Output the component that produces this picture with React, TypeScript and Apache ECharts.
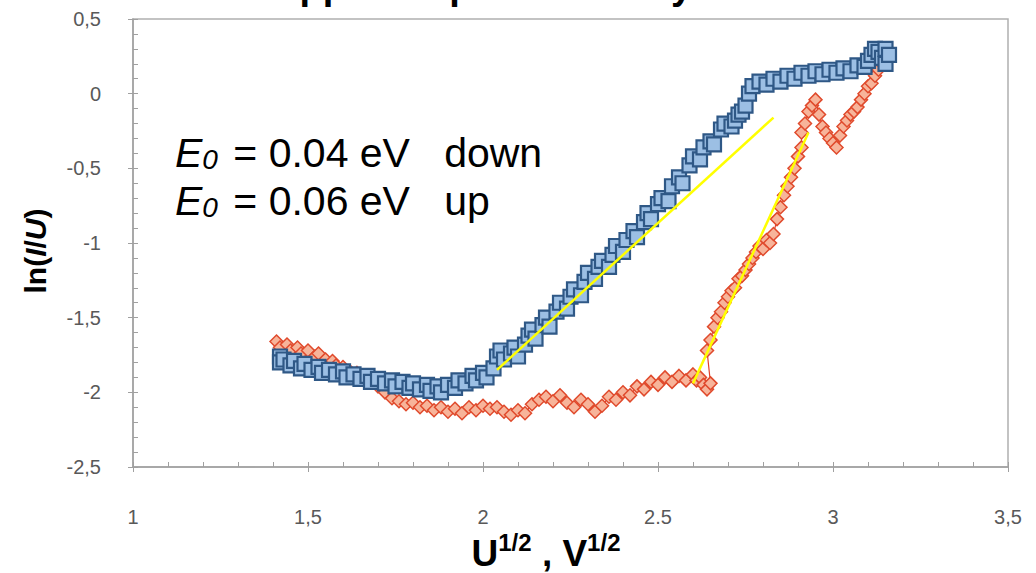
import React, { useEffect, useRef } from "react";
import * as echarts from "echarts";

// ---- data ----
const blueX = [1.42,1.42,1.43,1.45,1.46,1.48,1.49,1.51,1.53,1.54,1.56,1.58,1.60,1.61,1.63,1.65,1.67,1.68,1.70,1.72,1.74,1.75,1.77,1.79,1.80,1.82,1.84,1.85,1.87,1.88,1.90,1.92,1.93,1.95,1.97,1.98,2.00,2.01,2.03,2.04,2.05,2.06,2.08,2.09,2.10,2.12,2.13,2.14,2.15,2.17,2.18,2.19,2.21,2.22,2.24,2.25,2.26,2.28,2.29,2.30,2.32,2.33,2.34,2.36,2.37,2.38,2.40,2.41,2.43,2.44,2.46,2.47,2.48,2.50,2.51,2.53,2.54,2.56,2.57,2.59,2.60,2.62,2.63,2.65,2.66,2.68,2.69,2.71,2.72,2.73,2.74,2.75,2.76,2.77,2.79,2.81,2.83,2.85,2.87,2.89,2.91,2.93,2.95,2.97,2.99,3.01,3.03,3.05,3.07,3.09,3.10,3.11,3.12,3.13,3.14,3.15,3.15,3.16];
const blueY = [-1.76,-1.80,-1.78,-1.82,-1.79,-1.84,-1.81,-1.85,-1.83,-1.87,-1.85,-1.88,-1.86,-1.90,-1.88,-1.91,-1.89,-1.93,-1.91,-1.94,-1.92,-1.96,-1.93,-1.97,-1.94,-1.98,-1.95,-1.99,-1.96,-2.00,-1.95,-1.97,-1.92,-1.94,-1.89,-1.92,-1.87,-1.90,-1.84,-1.76,-1.72,-1.78,-1.74,-1.70,-1.76,-1.68,-1.62,-1.58,-1.64,-1.55,-1.50,-1.56,-1.46,-1.40,-1.44,-1.36,-1.31,-1.35,-1.26,-1.20,-1.24,-1.16,-1.12,-1.16,-1.08,-1.02,-1.06,-0.98,-0.92,-0.96,-0.86,-0.80,-0.84,-0.74,-0.70,-0.72,-0.62,-0.56,-0.60,-0.48,-0.42,-0.44,-0.36,-0.32,-0.34,-0.24,-0.20,-0.22,-0.18,-0.14,-0.12,-0.08,0.00,0.05,0.08,0.06,0.10,0.08,0.12,0.10,0.14,0.12,0.15,0.13,0.16,0.14,0.17,0.15,0.19,0.18,0.22,0.26,0.30,0.28,0.24,0.20,0.30,0.26];

const redX = [1.41,1.42,1.44,1.45,1.47,1.48,1.50,1.52,1.53,1.55,1.57,1.58,1.60,1.62,1.64,1.66,1.68,1.70,1.72,1.74,1.76,1.78,1.80,1.82,1.84,1.86,1.88,1.90,1.92,1.94,1.96,1.98,2.00,2.02,2.04,2.06,2.08,2.10,2.12,2.14,2.16,2.18,2.20,2.22,2.24,2.26,2.28,2.30,2.32,2.34,2.36,2.38,2.40,2.42,2.44,2.46,2.48,2.50,2.52,2.54,2.56,2.58,2.60,2.61,2.62,2.63,2.64,2.65,2.64,2.65,2.66,2.67,2.68,2.69,2.70,2.71,2.72,2.73,2.74,2.75,2.76,2.77,2.78,2.79,2.80,2.81,2.82,2.83,2.84,2.85,2.86,2.87,2.88,2.89,2.90,2.91,2.91,2.92,2.93,2.94,2.95,2.96,2.97,2.98,2.99,3.00,3.01,3.02,3.03,3.04,3.05,3.06,3.07,3.08,3.09,3.10,3.11,3.12,3.13,3.14];
const redY = [-1.66,-1.70,-1.68,-1.72,-1.70,-1.74,-1.72,-1.76,-1.74,-1.78,-1.79,-1.82,-1.83,-1.86,-1.87,-1.90,-1.93,-1.96,-2.00,-2.04,-2.06,-2.08,-2.07,-2.10,-2.09,-2.12,-2.10,-2.13,-2.11,-2.14,-2.10,-2.12,-2.09,-2.11,-2.10,-2.13,-2.15,-2.12,-2.14,-2.08,-2.05,-2.03,-2.06,-2.02,-2.07,-2.10,-2.05,-2.08,-2.13,-2.09,-2.03,-2.05,-2.00,-2.02,-1.96,-1.98,-1.93,-1.95,-1.90,-1.93,-1.89,-1.92,-1.88,-1.92,-1.90,-1.95,-1.98,-1.94,-1.72,-1.65,-1.56,-1.50,-1.46,-1.40,-1.36,-1.32,-1.30,-1.24,-1.22,-1.18,-1.14,-1.10,-1.06,-1.02,-1.04,-0.98,-1.00,-0.94,-0.84,-0.76,-0.68,-0.62,-0.56,-0.50,-0.42,-0.36,-0.26,-0.20,-0.12,-0.08,-0.04,-0.14,-0.22,-0.26,-0.30,-0.33,-0.36,-0.28,-0.22,-0.18,-0.14,-0.12,-0.09,-0.04,0.00,0.05,0.07,0.12,0.16,0.20];

const fitDownX = [2.04, 2.83];
const fitDownY = [-1.85, -0.16];
const fitUpX = [2.6, 2.93];
const fitUpY = [-1.94, -0.26];

const xTickLabels: Record<string, string> = { "1": "1", "1.5": "1,5", "2": "2", "2.5": "2.5", "3": "3", "3.5": "3,5" };
const yTickLabels: Record<string, string> = { "0.5": "0,5", "0": "0", "-0.5": "-0,5", "-1": "-1", "-1.5": "-1,5", "-2": "-2", "-2.5": "-2,5" };

const notes = ["0.04 eV   down", "0.06 eV   up"];

const zip = (xs: number[], ys: number[]) => xs.map((x, i) => [x, ys[i]]);

const FONT = "Liberation Sans";
const GRAY = "#a0a0a0";

export default function App() {
  const ref = useRef<HTMLDivElement>(null);
  useEffect(() => {
    if (!ref.current) return;
    const chart = echarts.init(ref.current, undefined, { renderer: "svg" });
    const tickLabel = { color: "#595959", fontFamily: FONT, fontSize: 20 };
    chart.setOption({
      animation: false,
      backgroundColor: "#ffffff",
      grid: { left: 133, right: 28, top: 19, bottom: 106, show: true, borderColor: "#b0b0b0", borderWidth: 1.5 },
      xAxis: [
        {
          type: "value", min: 1, max: 3.5, interval: 0.5, position: "bottom",
          axisLine: { onZero: false, lineStyle: { color: GRAY, width: 1.5 } },
          axisTick: { inside: true, length: 5, lineStyle: { color: GRAY } },
          minorTick: { show: true, splitNumber: 5, length: 5, lineStyle: { color: GRAY } },
          splitLine: { show: false },
          axisLabel: { ...tickLabel, margin: 40, formatter: (v: number) => xTickLabels[String(v)] ?? String(v) },
        },
        {
          type: "value", min: 1, max: 3.5, interval: 0.5, position: "bottom",
          axisLine: { show: false, onZero: false },
          axisTick: { inside: false, length: 5, lineStyle: { color: GRAY } },
          axisLabel: { show: false }, splitLine: { show: false },
        },
      ],
      yAxis: [
        {
          type: "value", min: -2.5, max: 0.5, interval: 0.5, position: "left",
          axisLine: { show: true, onZero: false, lineStyle: { color: GRAY, width: 1.5 } },
          axisTick: { show: true, inside: true, length: 5, lineStyle: { color: GRAY } },
          minorTick: { show: true, splitNumber: 5, length: 5, lineStyle: { color: GRAY } },
          splitLine: { show: false },
          axisLabel: { ...tickLabel, margin: 32, formatter: (v: number) => yTickLabels[String(v)] ?? String(v) },
        },
        {
          type: "value", min: -2.5, max: 0.5, interval: 0.5, position: "left",
          axisLine: { show: false, onZero: false },
          axisTick: { show: true, inside: false, length: 5, lineStyle: { color: GRAY } },
          axisLabel: { show: false }, splitLine: { show: false },
        },
      ],
      series: [
        {
          name: "up", type: "line", data: zip(redX, redY), symbol: "diamond", symbolSize: 13, showAllSymbol: true,
          lineStyle: { color: "#e0402a", width: 1.2 },
          itemStyle: { color: "#f7b49a", borderColor: "#e04a2c", borderWidth: 1.5 },
          z: 2,
        },
        {
          name: "down", type: "line", data: zip(blueX, blueY), symbol: "rect", symbolSize: 14, showAllSymbol: true,
          lineStyle: { color: "#2c5282", width: 1.5 },
          itemStyle: { color: "#9cbfe4", borderColor: "#2f5886", borderWidth: 2.2 },
          z: 3,
        },
        {
          type: "line", data: zip(fitDownX, fitDownY), symbol: "none",
          lineStyle: { color: "#ffff00", width: 2.5 }, z: 5,
        },
        {
          type: "line", data: zip(fitUpX, fitUpY), symbol: "none",
          lineStyle: { color: "#ffff00", width: 2.5 }, z: 5,
        },
      ],
      graphic: [
        {
          type: "text", x: 272, y: -14, z: 10,
          style: { text: "Upper loop — Schottky", fontFamily: FONT, fontWeight: "bold", fontSize: 38, fill: "#000", align: "left", verticalAlign: "middle" },
        },
        ...notes.map((n, i) => ({
          type: "text", x: 175, y: 149 + i * 48, z: 10,
          style: {
            text: `{i|E}{sub|0}{n| = ${n}}`,
            align: "left", verticalAlign: "middle",
            rich: {
              i: { fontFamily: FONT, fontStyle: "italic", fontSize: 41, fill: "#000", lineHeight: 48, verticalAlign: "bottom" },
              sub: { fontFamily: FONT, fontStyle: "italic", fontSize: 28, fill: "#000", lineHeight: 22, verticalAlign: "bottom", padding: [0, 4, 0, 0] },
              n: { fontFamily: FONT, fontSize: 41, fill: "#000", lineHeight: 48, verticalAlign: "bottom" },
            },
          },
        })),
        {
          type: "text", x: 546, y: 551, z: 10,
          style: {
            text: "{u|U}{s|1/2}{u| , V}{s|1/2}",
            align: "center", verticalAlign: "middle",
            rich: {
              u: { fontFamily: FONT, fontWeight: "bold", fontSize: 37, fill: "#000", lineHeight: 42, verticalAlign: "bottom" },
              s: { fontFamily: FONT, fontWeight: "bold", fontSize: 24, fill: "#000", lineHeight: 22, verticalAlign: "top" },
            },
          },
        },
        {
          type: "text", x: 35, y: 251, rotation: Math.PI / 2, z: 10,
          style: {
            text: "{n|ln(}{i|I}{n|/}{i|U}{n|)}",
            align: "center", verticalAlign: "middle",
            rich: {
              n: { fontFamily: FONT, fontWeight: "bold", fontSize: 30, fill: "#000" },
              i: { fontFamily: FONT, fontWeight: "bold", fontStyle: "italic", fontSize: 30, fill: "#000" },
            },
          },
        },
      ],
    });
    return () => chart.dispose();
  }, []);
  return <div ref={ref} style={{ position: "absolute", left: 0, top: 0, width: 1036, height: 573 }} />;
}
